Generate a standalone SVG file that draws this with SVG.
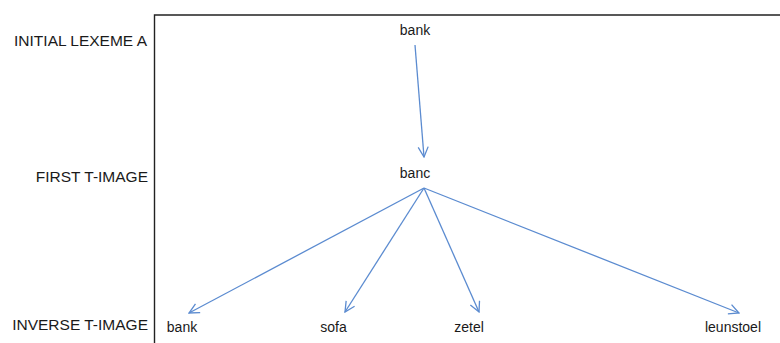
<svg xmlns="http://www.w3.org/2000/svg" width="780" height="343" viewBox="0 0 780 343">
<style>
.lbl{font-family:"Liberation Sans",Arial,sans-serif;font-size:15.5px;fill:#1a1a1a;text-anchor:end}
.w{font-family:"Liberation Sans",Arial,sans-serif;font-size:14px;fill:#1a1a1a;text-anchor:middle}
.c{stroke:#5b8bd0;stroke-width:1.3;fill:none}
</style>
<defs>
<marker id="ah" viewBox="0 0 12 12" refX="11" refY="6" markerWidth="12" markerHeight="12" markerUnits="userSpaceOnUse" orient="auto">
<path d="M1,1 L11,6 L1,11" fill="none" stroke="#5b8bd0" stroke-width="1.3"/>
</marker>
</defs>
<rect width="780" height="343" fill="#ffffff"/>
<g id="frame">
<path d="M154.5,343 V15 H780" fill="none" stroke="#222" stroke-width="1.4"/>
</g>
<g id="row-labels">
<text class="lbl" x="147" y="45.5">INITIAL LEXEME A</text>
<text class="lbl" x="148" y="182">FIRST T-IMAGE</text>
<text class="lbl" x="148" y="330">INVERSE T-IMAGE</text>
</g>
<g id="connectors">
<line class="c" x1="415" y1="45" x2="424" y2="157" marker-end="url(#ah)"/>
<line class="c" x1="424" y1="188" x2="189" y2="313" marker-end="url(#ah)"/>
<line class="c" x1="424" y1="188" x2="345" y2="312" marker-end="url(#ah)"/>
<line class="c" x1="424" y1="188" x2="479" y2="312" marker-end="url(#ah)"/>
<line class="c" x1="424" y1="188" x2="739" y2="313" marker-end="url(#ah)"/>
</g>
<g id="node-bank-a"><text class="w" x="415" y="35">bank</text></g>
<g id="node-banc"><text class="w" x="415" y="178">banc</text></g>
<g id="node-bank"><text class="w" x="182" y="332">bank</text></g>
<g id="node-sofa"><text class="w" x="333.5" y="332">sofa</text></g>
<g id="node-zetel"><text class="w" x="469" y="332">zetel</text></g>
<g id="node-leunstoel"><text class="w" x="733" y="332">leunstoel</text></g>
</svg>
